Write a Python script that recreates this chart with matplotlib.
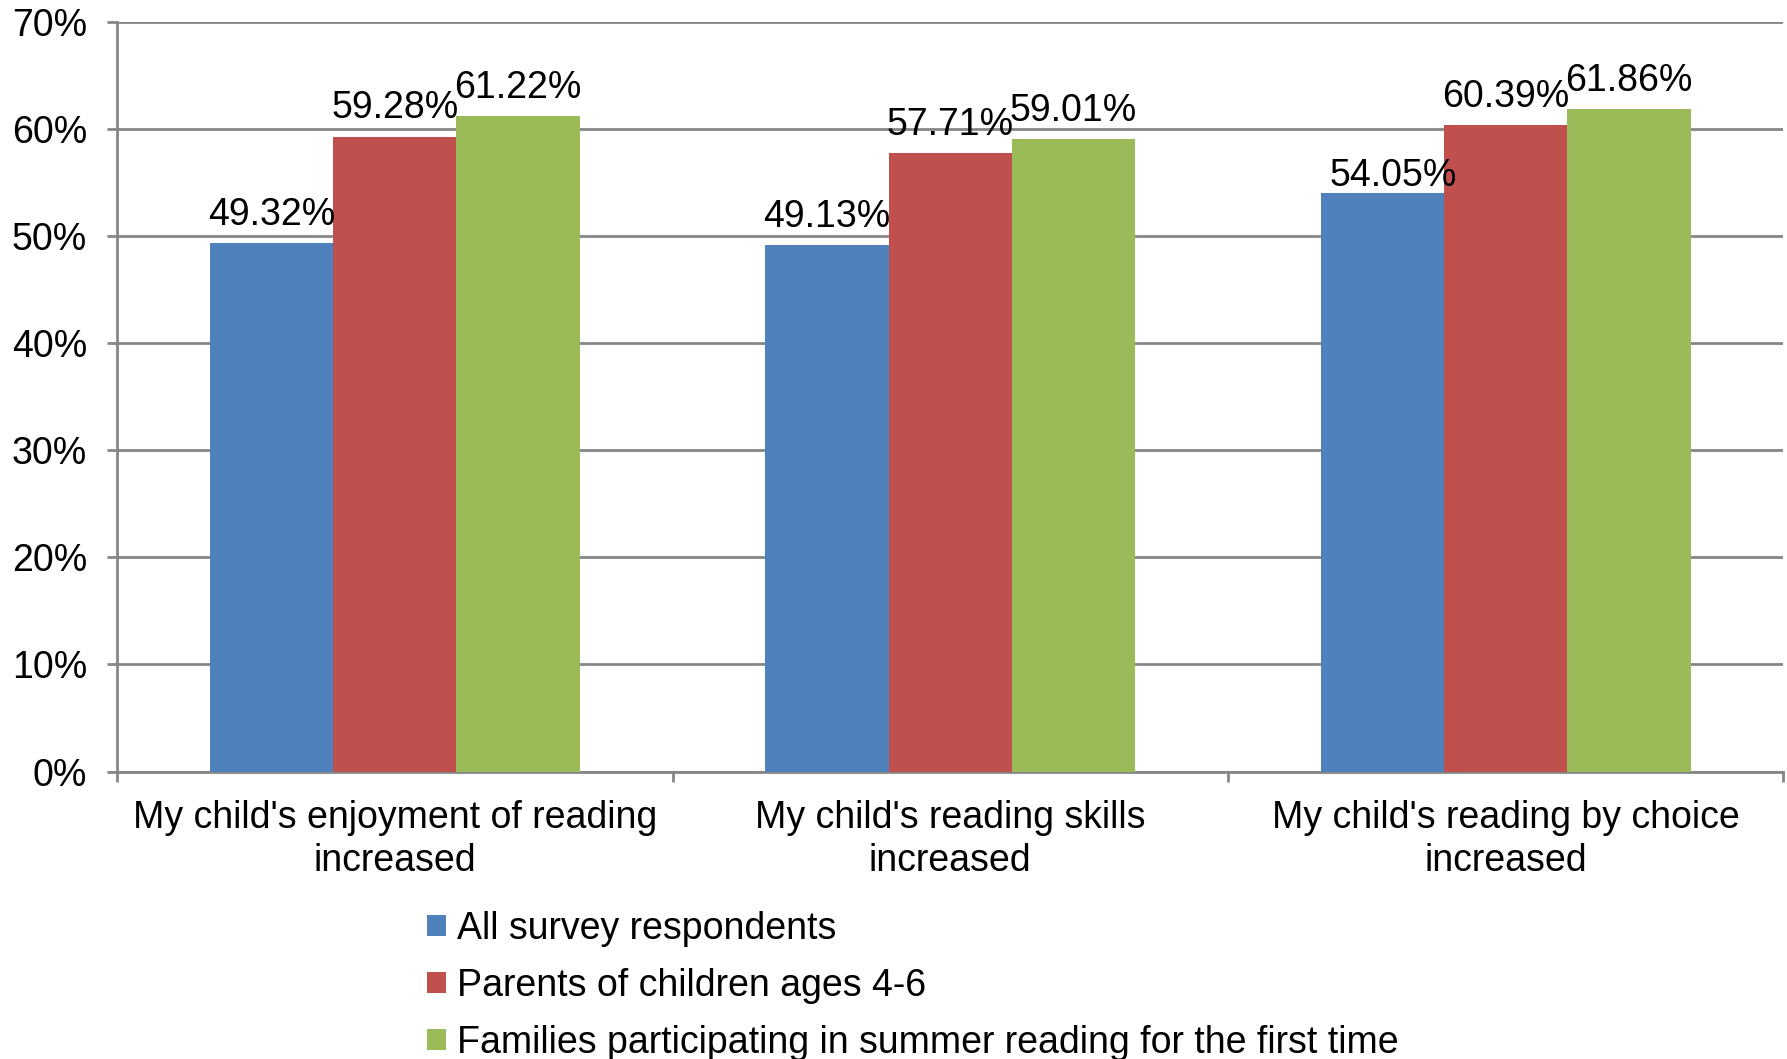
import matplotlib
matplotlib.use("Agg")
import matplotlib.pyplot as plt
import numpy as np

plt.rcParams['font.family'] = ['Liberation Sans', 'DejaVu Sans']

categories = ["My child's enjoyment of reading\nincreased",
              "My child's reading skills\nincreased",
              "My child's reading by choice\nincreased"]
series_names = ["All survey respondents",
                "Parents of children ages 4-6",
                "Families participating in summer reading for the first time"]
all_respondents = [49.32, 49.13, 54.05]
parents_4_6 = [59.28, 57.71, 60.39]
first_time = [61.22, 59.01, 61.86]
yticks = [0, 10, 20, 30, 40, 50, 60, 70]

colors = ['#4F81BD', '#C0504D', '#9BBB59']
grid_col = '#868686'
fs = 27

fig = plt.figure(figsize=(17.87, 10.59), dpi=100)
ax = fig.add_axes([0.0655, 0.2714, 0.9325, 0.7081])

x = np.arange(len(categories))
w = 0.222
handles = []
for i, (vals, c, name) in enumerate(zip([all_respondents, parents_4_6, first_time], colors, series_names)):
    pos = x + (i - 1) * w
    b = ax.bar(pos, vals, w, color=c, label=name, zorder=3)
    handles.append(b)
    for j, (px, v) in enumerate(zip(pos, vals)):
        # the 54.05% label sits a bit lower/right in the original
        dx, dy = (8, 5) if (i == 0 and j == 2) else (0, 13)
        ax.annotate(f"{v:.2f}%", (px, v), xytext=(dx, dy), textcoords='offset points',
                    ha='center', va='baseline', fontsize=fs, zorder=4)

ax.set_xlim(-0.5, 2.5)
ax.set_ylim(0, 70)
ax.set_yticks(yticks)
ax.set_yticklabels([f"{t}%" for t in yticks], fontsize=fs)
ax.set_xticks(x)
ax.set_xticklabels(categories, fontsize=fs, linespacing=1.24)
ax.set_xticks(np.arange(-0.5, 3.0, 1.0), minor=True)

ax.yaxis.grid(True, color=grid_col, linewidth=2, zorder=0)
ax.tick_params(axis='y', length=7, width=2, color=grid_col, pad=14.5, direction='out')
ax.tick_params(axis='x', which='major', length=0, pad=20.5)
ax.tick_params(axis='x', which='minor', length=7, width=2, color=grid_col, direction='out')

for s in ['top', 'right']:
    ax.spines[s].set_visible(False)
for s in ['left', 'bottom']:
    ax.spines[s].set_color(grid_col)
    ax.spines[s].set_linewidth(2)

fig.legend(handles=handles, labels=series_names, loc='upper left',
           bbox_to_anchor=(0.239, 0.140), frameon=False, fontsize=fs,
           handlelength=0.5, handleheight=0.5, handletextpad=0.3,
           labelspacing=0.56, borderpad=0, borderaxespad=0)

fig.savefig('out.png', dpi=100)
